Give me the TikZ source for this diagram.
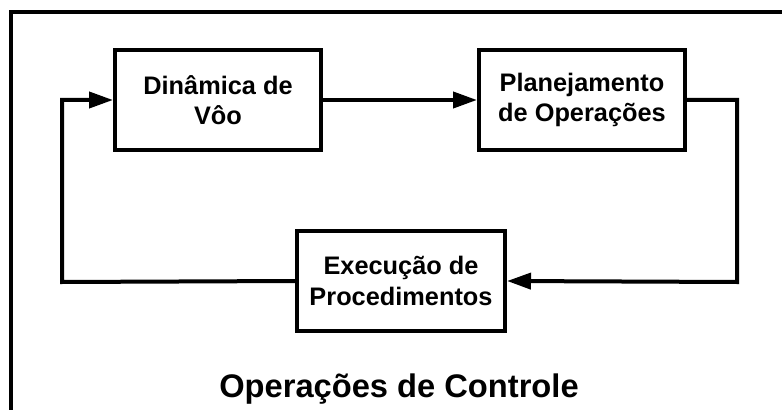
\documentclass[tikz,border=0pt]{standalone}
\usepackage{fontspec}
\setmainfont{Liberation Sans}
\usetikzlibrary{arrows.meta}

\begin{document}
\begin{tikzpicture}[x=0.75pt,y=-0.75pt]
    \tikzstyle{bloco}=[rectangle,draw,line width=3pt,align=center,inner sep=0pt,minimum height=75pt,font=\bfseries\fontsize{19}{23}\selectfont]
    \tikzstyle{seta}=[line width=3pt,-{Triangle[length=18pt,width=12pt]}]
    \clip (0,0) rectangle (782,410);
    \draw[line width=3pt] (10.5,12) rectangle (800,430);
    \node[bloco,minimum width=154.5pt] (dinamica) at (218,100) {Dinâmica de\\Vôo};
    \node[bloco,minimum width=154.5pt] (planej) at (582,100) {Planejamento\\de Operações};
    \node[bloco,minimum width=156pt] (execucao) at (401,281) {Execução de\\Procedimentos};
    \node[font=\bfseries\fontsize{24.5}{30}\selectfont,anchor=base] (titulo) at (399,397) {Operações de Controle};
    \coordinate (dir) at (737,282);
    \coordinate (esq) at (62,282);
    \draw[seta] (dinamica) -- (planej);
    \draw[seta] (planej.east) -| (dir) -- (execucao.east);
    \draw[seta] (execucao.west) -- (esq) |- (dinamica.west);
\end{tikzpicture}
\end{document}
